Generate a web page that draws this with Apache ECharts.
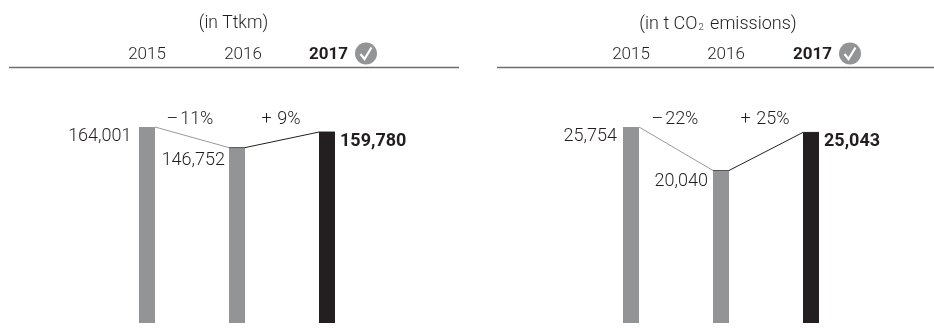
<!DOCTYPE html>
<html>
<head>
<meta charset="utf-8">
<style>html,body{margin:0;padding:0;background:#fff}#c{width:934px;height:328px}</style>
<script src="https://cdn.jsdelivr.net/npm/echarts@6/dist/echarts.min.js"></script>
</head>
<body>
<div id="c"></div>
<script>
const years = ['2015', '2016', '2017'];
const ttkm = [164001, 146752, 159780];
const co2 = [25754, 20040, 25043];
const ttkmChange = ['–\u200a11%', '+\u2009\u200a9%'];
const co2Change = ['–\u200a22%', '+\u2009\u200a25%'];

const FONT = 'Roboto';
const INK = '#231f20';
const GREY = '#939495';
const BLACK = '#231f20';
const barColors = [GREY, GREY, BLACK];
const BAR_W = 16;

const fmt = v => v.toLocaleString('en-US');

// Each panel: value labels sit beside the bar tops; year labels are nudged off the bar centres.
const panels = [
  { left: 102, values: ttkm, changes: ttkmChange, yearPad: [0, 12, 3], labelX: [-7.5, -4], labelY: [0, 4], ruleFrom: 9, ruleTo: 459, checkX: 366, changeShift: [-2, -1] },
  { left: 586, values: co2, changes: co2Change, yearPad: [0, 10, 3], labelX: [-6, -5], labelY: [0, 2], ruleFrom: 497, ruleTo: 934, checkX: 850, changeShift: [-1, -1] }
];

const grids = [], xAxes = [], yAxes = [], series = [], graphics = [];

panels.forEach((p, idx) => {
  grids.push({ left: p.left, top: 127, width: 270, height: 196 });
  xAxes.push({
    type: 'category', gridIndex: idx, position: 'top', offset: 60,
    data: years,
    axisLine: { show: false }, axisTick: { show: false },
    axisLabel: {
      interval: 0, margin: 4,
      formatter: (v, i) => `{${i === 2 ? 'b' : 'r'}${i}|${v}}`,
      rich: Object.fromEntries(years.flatMap((y, i) => [
        ['r' + i, { fontFamily: FONT, fontWeight: 300, fontSize: 17, color: INK, padding: [0, 0, 0, p.yearPad[i]] }],
        ['b' + i, { fontFamily: FONT, fontWeight: 700, fontSize: 17, color: BLACK, padding: [0, 0, 0, p.yearPad[i]] }]
      ]))
    }
  });
  yAxes.push({ type: 'value', gridIndex: idx, min: 0, max: p.values[0], show: false });

  series.push({
    type: 'bar', xAxisIndex: idx, yAxisIndex: idx, barWidth: BAR_W, silent: true,
    data: p.values.map((v, i) => ({
      value: v,
      itemStyle: { color: barColors[i] },
      label: {
        show: true,
        formatter: fmt(v),
        position: i === 2 ? [BAR_W + 5, 0] : [p.labelX[i], p.labelY[i]],
        align: i === 2 ? 'left' : 'right',
        verticalAlign: 'top',
        fontFamily: FONT,
        fontWeight: i === 2 ? 700 : 300,
        fontSize: 18,
        lineHeight: 18,
        color: i === 2 ? BLACK : INK
      }
    }))
  });

  // Sloped connectors between neighbouring bar tops, with the change above each one.
  series.push({
    type: 'custom', xAxisIndex: idx, yAxisIndex: idx, silent: true, clip: false, z: 5,
    encode: { x: [0, 2], y: [1, 3] },
    data: p.changes.map((c, i) => [i, p.values[i], i + 1, p.values[i + 1], c]),
    renderItem(params, api) {
      const i = params.dataIndex;
      const a = api.coord([api.value(0), api.value(1)]);
      const b = api.coord([api.value(2), api.value(3)]);
      const stroke = i === 0 ? '#9a9a9a' : BLACK;
      return {
        type: 'group',
        children: [
          { type: 'line', shape: { x1: a[0] + BAR_W / 2, y1: a[1], x2: b[0] - BAR_W / 2, y2: b[1] }, style: { stroke, lineWidth: 1 } },
          { type: 'line', shape: { x1: b[0] - BAR_W / 2, y1: b[1], x2: b[0] + BAR_W / 2, y2: b[1] }, style: { stroke: i === 0 ? '#55565a' : BLACK, lineWidth: 1 } },
          { type: 'text', x: (a[0] + b[0]) / 2 + p.changeShift[i], y: 119,
            style: { text: api.value(4), fontFamily: FONT, fontWeight: 300, fontSize: 18, fill: INK, align: 'center', verticalAlign: 'middle' } }
        ]
      };
    }
  });

  graphics.push(
    { type: 'line', silent: true, shape: { x1: p.ruleFrom, y1: 67.5, x2: p.ruleTo, y2: 67.5 }, style: { stroke: '#6d6e70', lineWidth: 1.3 } },
    { type: 'circle', silent: true, shape: { cx: p.checkX, cy: 53.5, r: 11 }, style: { fill: GREY } },
    { type: 'polyline', silent: true, shape: { points: [[p.checkX - 5.5, 54], [p.checkX - 1.5, 59], [p.checkX + 5.5, 47.5]] }, style: { stroke: '#fff', lineWidth: 2.2, fill: null } }
  );
});

const headStyle = {
  fontFamily: FONT, fontWeight: 300, fontSize: 17.5, color: INK
};
const co2HeadStyle = {
  fontFamily: FONT, fontWeight: 300, fontSize: 18, color: INK,
  rich: { sub: { fontFamily: FONT, fontWeight: 300, fontSize: 9.5, color: INK, verticalAlign: 'bottom', padding: [7, 2, 0, 1] } }
};

const chart = echarts.init(document.getElementById('c'), null, { renderer: 'canvas' });
chart.setOption({
  animation: false,
  backgroundColor: '#fff',
  title: [
    { text: '(in Ttkm)', left: 228.5, top: 10, textAlign: 'center', textStyle: headStyle },
    { text: '(in t CO{sub|2} emissions)', left: 713, top: 10, textAlign: 'center', textStyle: co2HeadStyle }
  ],
  grid: grids,
  xAxis: xAxes,
  yAxis: yAxes,
  series,
  graphic: graphics
});
</script>
</body>
</html>
